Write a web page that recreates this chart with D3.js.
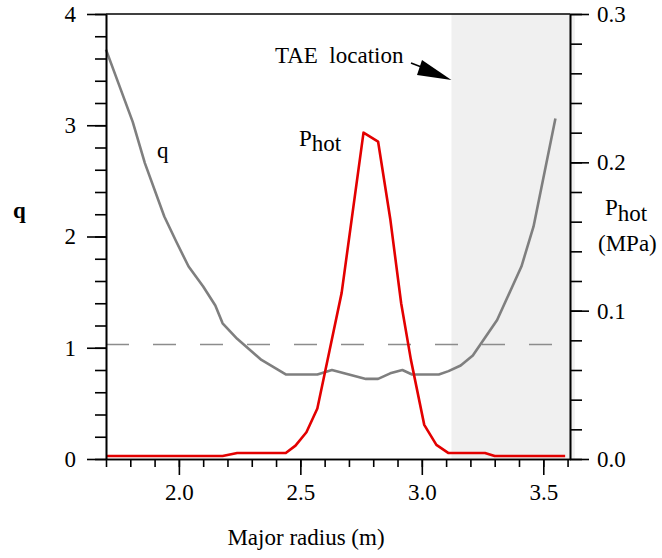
<!DOCTYPE html>
<html>
<head>
<meta charset="utf-8">
<script src="https://cdn.jsdelivr.net/npm/d3@7"></script>
<style>
  body { margin: 0; background: #fff; }
  text { font-family: "Liberation Serif", "Times New Roman", serif; font-size: 23px; fill: #000; }
  .axis path, .axis line { stroke: #000; stroke-width: 1.6; }
  .axis text { font-family: "Liberation Serif", serif; font-size: 23px; }
</style>
</head>
<body>
<svg width="662" height="558"></svg>
<script>
// major radius (m) and safety factor q
var qRadius = [1.70, 1.81, 1.86, 1.94, 1.99, 2.04, 2.10, 2.15, 2.18, 2.24, 2.34, 2.44, 2.57, 2.63,
               2.77, 2.82, 2.87, 2.92, 2.96, 3.07, 3.11, 3.16, 3.21, 3.31, 3.41, 3.46, 3.55];
var qValues = [3.68, 3.03, 2.66, 2.18, 1.95, 1.73, 1.55, 1.38, 1.22, 1.08, 0.89, 0.76, 0.76, 0.80,
               0.72, 0.72, 0.77, 0.80, 0.76, 0.76, 0.79, 0.84, 0.93, 1.25, 1.73, 2.09, 3.06];

// hot particle pressure (MPa)
var pRadius = [1.70, 2.18, 2.24, 2.44, 2.48, 2.525, 2.57, 2.62, 2.67, 2.76, 2.82, 2.87, 2.915,
               2.955, 3.01, 3.06, 3.11, 3.26, 3.30, 3.59];
var pValues = [0.002, 0.002, 0.004, 0.004, 0.009, 0.018, 0.034, 0.073, 0.112, 0.220, 0.214, 0.162,
               0.105, 0.067, 0.023, 0.0095, 0.004, 0.004, 0.002, 0.002];

var qRef = 1.03;            // dashed q = 1 line
var taeRange = [3.122, 3.63]; // shaded TAE location

var qMajor = [0, 1, 2, 3, 4];
var pMajor = [0, 0.1, 0.2, 0.3];
var rMajor = [2.0, 2.5, 3.0, 3.5];

var svg = d3.select("svg");
var x = d3.scaleLinear().domain([1.7, 3.61]).range([106, 570]);
var yq = d3.scaleLinear().domain([0, 4]).range([459, 14]);
var yp = d3.scaleLinear().domain([0, 0.3]).range([459, 14]);

// shaded region
svg.append("rect")
    .attr("x", x(taeRange[0]))
    .attr("y", yq(4))
    .attr("width", x(taeRange[1]) - x(taeRange[0]))
    .attr("height", yq(0) - yq(4))
    .attr("fill", "#f0f0f0");

// q = 1 reference
svg.append("line")
    .attr("x1", x(1.7)).attr("x2", x(3.58))
    .attr("y1", yq(qRef)).attr("y2", yq(qRef))
    .attr("stroke", "#8c8c8c").attr("stroke-width", 1.5)
    .attr("stroke-dasharray", "23,24");

var qLine = d3.line().x(d => x(d[0])).y(d => yq(d[1]));
svg.append("path")
    .datum(d3.zip(qRadius, qValues))
    .attr("d", qLine)
    .attr("fill", "none").attr("stroke", "#7f7f7f").attr("stroke-width", 2.6)
    .attr("stroke-linejoin", "round");

var pLine = d3.line().x(d => x(d[0])).y(d => yp(d[1]));
svg.append("path")
    .datum(d3.zip(pRadius, pValues))
    .attr("d", pLine)
    .attr("fill", "none").attr("stroke", "#e30000").attr("stroke-width", 2.6)
    .attr("stroke-linejoin", "round");

// axes: minor ticks first, then major with labels
svg.append("g").attr("class", "axis").attr("transform", "translate(106,0)")
    .call(d3.axisLeft(yq).tickValues(d3.range(0, 21).map(d => d / 5)).tickSize(11).tickSizeOuter(0).tickFormat(""));
svg.append("g").attr("class", "axis").attr("transform", "translate(106,0)")
    .call(d3.axisLeft(yq).tickValues(qMajor).tickSize(19).tickSizeOuter(0).tickPadding(11).tickFormat(d3.format("d")));

svg.append("g").attr("class", "axis").attr("transform", "translate(570,0)")
    .call(d3.axisRight(yp).tickValues(d3.range(0, 16).map(d => d / 50)).tickSize(12).tickSizeOuter(0).tickFormat(""));
svg.append("g").attr("class", "axis").attr("transform", "translate(570,0)")
    .call(d3.axisRight(yp).tickValues(pMajor).tickSize(19).tickSizeOuter(0).tickPadding(8).tickFormat(d3.format(".1f")));

svg.append("g").attr("class", "axis").attr("transform", "translate(0,459)")
    .call(d3.axisBottom(x).tickValues(d3.range(17, 37).map(d => d / 10)).tickSize(8).tickSizeOuter(0).tickFormat(""));
svg.append("g").attr("class", "axis").attr("transform", "translate(0,459)")
    .call(d3.axisBottom(x).tickValues(rMajor).tickSize(16).tickSizeOuter(0).tickPadding(9).tickFormat(d3.format(".1f")));

// top frame
svg.append("line")
    .attr("x1", 106).attr("x2", 570).attr("y1", yq(4)).attr("y2", yq(4))
    .attr("stroke", "#000").attr("stroke-width", 1.6);

// axis titles
svg.append("text").attr("x", 306).attr("y", 545).attr("text-anchor", "middle").text("Major radius (m)");
svg.append("text").attr("x", 13).attr("y", 218).attr("font-weight", "bold").text("q");

var rt = svg.append("text").attr("x", 605).attr("y", 215);
rt.append("tspan").text("P");
rt.append("tspan").attr("dy", 6).text("hot");
svg.append("text").attr("x", 598).attr("y", 251).text("(MPa)");

// curve labels
svg.append("text").attr("x", 157).attr("y", 158).text("q");
var pl = svg.append("text").attr("x", 299).attr("y", 146);
pl.append("tspan").text("P");
pl.append("tspan").attr("dy", 5).text("hot");

// TAE annotation
svg.append("text").attr("x", 275).attr("y", 63).attr("xml:space", "preserve").text("TAE\u00a0\u00a0location");
svg.append("line").attr("x1", 411).attr("y1", 63).attr("x2", 424).attr("y2", 68)
    .attr("stroke", "#000").attr("stroke-width", 1.6);
svg.append("path")
    .attr("d", "M" + x(taeRange[0]) + ",80 L422,60 L417,75 Z")
    .attr("fill", "#000");
</script>
</body>
</html>
